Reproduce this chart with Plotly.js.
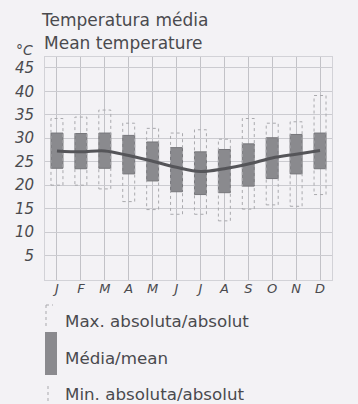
<!DOCTYPE html>
<html>
<head>
<meta charset="utf-8">
<script src="https://cdn.plot.ly/plotly-3.0.1.min.js"></script>
<style>html,body{margin:0;padding:0;background:#f3f2f5;}#chart{width:358px;height:404px;}</style>
</head>
<body>
<div id="chart"></div>
<script>
const months = ['J','F','M','A','M','J','J','A','S','O','N','D'];
const absMax  = [34.2, 34.5, 36.0, 33.2, 32.1, 31.1, 31.8, 29.8, 34.2, 33.2, 33.5, 39.1];
const absMin  = [20.0, 20.0, 19.2, 16.5, 14.8, 13.8, 13.8, 12.4, 14.9, 15.8, 15.5, 18.0];
const meanMax = [31.1, 31.0, 31.1, 30.6, 29.2, 28.0, 27.1, 27.6, 28.8, 30.1, 30.8, 31.1];
const meanMin = [23.6, 23.5, 23.6, 22.4, 20.9, 18.6, 18.0, 18.4, 19.8, 21.4, 22.4, 23.5];
const meanT   = [27.3, 27.1, 27.3, 26.3, 25.1, 23.8, 22.9, 23.5, 24.5, 25.8, 26.6, 27.4];
const yTicks  = [5, 10, 15, 20, 25, 30, 35, 40, 45];

const idx = months.map((m, i) => i);
const hw = 0.25;

// dotted absolute range rectangles
const rx = [], ry = [];
idx.forEach(i => {
  rx.push(i - hw, i + hw, i + hw, i - hw, i - hw, null);
  ry.push(absMin[i], absMin[i], absMax[i], absMax[i], absMin[i], null);
});

const traces = [
  {
    type: 'scatter', mode: 'lines', x: rx, y: ry,
    line: {color: '#a9a9ad', width: 1, dash: 'dot'},
    hoverinfo: 'skip', showlegend: false
  },
  {
    type: 'bar', x: idx, base: meanMin,
    y: idx.map(i => meanMax[i] - meanMin[i]),
    width: 0.5,
    marker: {color: '#8a8a8e', line: {color: '#76767a', width: 1}},
    showlegend: false
  },
  {
    type: 'scatter', mode: 'lines', x: idx, y: meanT,
    line: {color: '#555559', width: 3, shape: 'spline', smoothing: 1},
    showlegend: false
  }
];

const txt = '#4a4a4e';
const sans = 'DejaVu Sans, sans-serif';
const PH = 223; // plot height px, plot bottom at 280px
const py = y => (280 - y) / PH;
const px = x => (x - 45) / 287;
const layout = {
  width: 358, height: 404,
  paper_bgcolor: '#f3f2f5', plot_bgcolor: '#f3f2f5',
  margin: {l: 45, r: 26, t: 57, b: 124},
  title: {
    text: 'Temperatura média',
    x: 42/358, xanchor: 'left', xref: 'container',
    y: 1 - 20/404, yanchor: 'middle', yref: 'container',
    font: {family: sans, size: 17, color: txt}
  },
  xaxis: {
    range: [-0.5, 11.5], tickvals: idx, ticktext: months,
    showgrid: true, gridcolor: '#c2c2c7', gridwidth: 1,
    showline: true, mirror: true, linecolor: '#d2d2d7',
    ticks: '', zeroline: false, ticklabelstandoff: -4,
    tickfont: {family: sans, size: 13, color: txt, style: 'italic'}
  },
  yaxis: {
    range: [-0.2, 47.3], tickvals: yTicks, ticktext: yTicks.map(String),
    showgrid: true, gridcolor: '#cbcbd0', gridwidth: 1,
    showline: true, mirror: true, linecolor: '#d2d2d7',
    ticks: 'outside', ticklen: 7, tickcolor: 'rgba(0,0,0,0)', zeroline: false,
    tickfont: {family: sans, size: 15, color: txt, style: 'italic'}
  },
  bargap: 0,
  shapes: [
    {type: 'line', xref: 'paper', yref: 'paper', x0: px(46), x1: px(46), y0: py(305), y1: py(327),
     line: {color: '#a9a9ad', width: 1, dash: 'dot'}},
    {type: 'line', xref: 'paper', yref: 'paper', x0: px(46), x1: px(53), y0: py(305), y1: py(305),
     line: {color: '#a9a9ad', width: 1, dash: 'dot'}},
    {type: 'rect', xref: 'paper', yref: 'paper', x0: px(45), x1: px(57), y0: py(332), y1: py(375),
     fillcolor: '#8a8a8e', line: {width: 0}},
    {type: 'line', xref: 'paper', yref: 'paper', x0: px(48), x1: px(48), y0: py(386), y1: py(404),
     line: {color: '#a9a9ad', width: 1, dash: 'dot'}}
  ],
  annotations: [
    {xref: 'paper', yref: 'paper', x: px(42), y: py(43), xanchor: 'left', yanchor: 'middle',
     text: 'Mean temperature', showarrow: false,
     font: {family: sans, size: 17, color: txt}},
    {xref: 'paper', yref: 'paper', x: px(14), y: py(50), xanchor: 'left', yanchor: 'middle',
     text: '°C', showarrow: false,
     font: {family: sans, size: 14, color: txt, style: 'italic'}},
    {xref: 'paper', yref: 'paper', x: px(63), y: py(321), xanchor: 'left', yanchor: 'middle',
     text: 'Max. absoluta/absolut', showarrow: false,
     font: {family: sans, size: 16.7, color: txt}},
    {xref: 'paper', yref: 'paper', x: px(63), y: py(358), xanchor: 'left', yanchor: 'middle',
     text: 'Média/mean', showarrow: false,
     font: {family: sans, size: 16.7, color: txt}},
    {xref: 'paper', yref: 'paper', x: px(63), y: py(394), xanchor: 'left', yanchor: 'middle',
     text: 'Min. absoluta/absolut', showarrow: false,
     font: {family: sans, size: 16.7, color: txt}}
  ]
};

Plotly.newPlot('chart', traces, layout, {displayModeBar: false, staticPlot: true});
</script>
</body>
</html>
